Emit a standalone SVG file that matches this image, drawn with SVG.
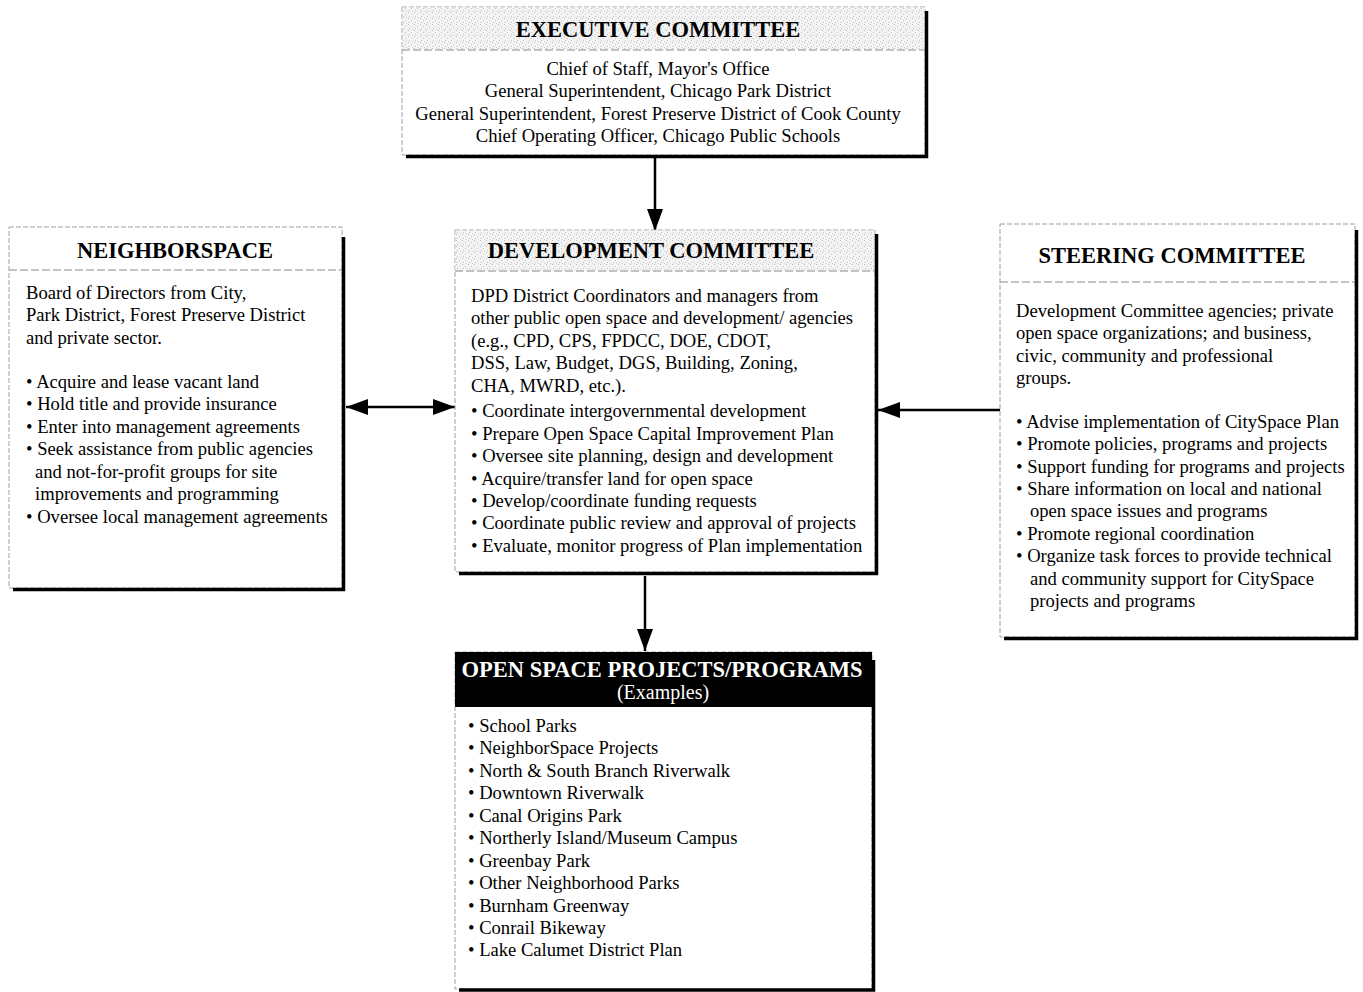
<svg xmlns="http://www.w3.org/2000/svg" width="1363" height="992" viewBox="0 0 1363 992">
<style>
.frame{fill:#fff;stroke:#a0a0a0;stroke-width:1;stroke-dasharray:5 2}
.shadow{fill:none;stroke:#000;stroke-width:3.5}
.sep{stroke:#8a8a8a;stroke-width:1;stroke-dasharray:8 3}
.title{font-family:"Liberation Serif","Times New Roman",serif;font-weight:bold;font-size:22.5px;fill:#000;text-anchor:middle}
.body{font-family:"Liberation Serif","Times New Roman",serif;font-size:18.6px;fill:#000}
.c{text-anchor:middle}
.conn{stroke:#000;stroke-width:2.5;fill:none}
</style>
<defs>
<pattern id="stipple" width="6" height="6" patternUnits="userSpaceOnUse">
<rect width="6" height="6" fill="#f3f3f3"/>
<rect x="0" y="0" width="1" height="1" fill="#bbbbbb"/>
<rect x="3" y="2" width="1" height="1" fill="#c8c8c8"/>
<rect x="1" y="4" width="1" height="1" fill="#c0c0c0"/>
<rect x="4" y="5" width="1" height="1" fill="#d2d2d2"/>
</pattern>
<marker id="ahb" viewBox="0 0 22 16" refX="22" refY="8" markerWidth="22" markerHeight="16" markerUnits="userSpaceOnUse" orient="auto-start-reverse">
<path d="M0,0 L22,8 L0,16 z" fill="#000"/>
</marker>
</defs>

<g id="connectors">
<line class="conn" x1="655" y1="158" x2="655" y2="231" marker-end="url(#ahb)"/>
<line class="conn" x1="346" y1="407" x2="455" y2="407" marker-start="url(#ahb)" marker-end="url(#ahb)"/>
<line class="conn" x1="1000" y1="410" x2="878" y2="410" marker-end="url(#ahb)"/>
<line class="conn" x1="645" y1="576" x2="645" y2="651" marker-end="url(#ahb)"/>
</g>

<g id="executive-committee">
<rect class="frame" x="402" y="7" width="523" height="148"/>
<rect x="402.5" y="7.5" width="522" height="42" fill="url(#stipple)"/>
<line class="sep" x1="402" y1="50" x2="925" y2="50"/>
<path class="shadow" d="M406,156.5 H926.5 V11"/>
<text class="title" x="658" y="37">EXECUTIVE COMMITTEE</text>
<text class="body c" x="658" y="75">Chief of Staff, Mayor's Office</text>
<text class="body c" x="658" y="97">General Superintendent, Chicago Park District</text>
<text class="body c" x="658" y="120">General Superintendent, Forest Preserve District of Cook County</text>
<text class="body c" x="658" y="142">Chief Operating Officer, Chicago Public Schools</text>
</g>

<g id="development-committee">
<rect class="frame" x="455" y="230" width="420" height="342"/>
<rect x="455.5" y="230.5" width="419" height="40" fill="url(#stipple)"/>
<line class="sep" x1="455" y1="271" x2="875" y2="271"/>
<path class="shadow" d="M459,573.5 H876.5 V234"/>
<text class="title" x="651" y="258">DEVELOPMENT COMMITTEE</text>
<text class="body" x="471" y="302">DPD District Coordinators and managers from</text>
<text class="body" x="471" y="324">other public open space and development/ agencies</text>
<text class="body" x="471" y="347">(e.g., CPD,  CPS, FPDCC, DOE, CDOT,</text>
<text class="body" x="471" y="369">DSS, Law, Budget, DGS, Building, Zoning,</text>
<text class="body" x="471" y="392">CHA, MWRD, etc.).</text>
<text class="body" x="471" y="417">• Coordinate intergovernmental development</text>
<text class="body" x="471" y="440">• Prepare Open Space Capital Improvement Plan</text>
<text class="body" x="471" y="462">• Oversee site planning, design and development</text>
<text class="body" x="471" y="485">• Acquire/transfer land for open space</text>
<text class="body" x="471" y="507">• Develop/coordinate funding requests</text>
<text class="body" x="471" y="529">• Coordinate public review and approval of projects</text>
<text class="body" x="471" y="552">• Evaluate, monitor progress of Plan implementation</text>
</g>

<g id="neighborspace">
<rect class="frame" x="9" y="227" width="333" height="361"/>
<line class="sep" x1="9" y1="270" x2="342" y2="270"/>
<path class="shadow" d="M13,589.5 H343.5 V237"/>
<text class="title" x="175" y="258">NEIGHBORSPACE</text>
<text class="body" x="26" y="299">Board of Directors from City,</text>
<text class="body" x="26" y="321">Park District, Forest Preserve District</text>
<text class="body" x="26" y="344">and private sector.</text>
<text class="body" x="26" y="388">• Acquire and lease vacant land</text>
<text class="body" x="26" y="410">• Hold title and provide insurance</text>
<text class="body" x="26" y="433">• Enter into management agreements</text>
<text class="body" x="26" y="455">• Seek assistance from public agencies</text>
<text class="body" x="35" y="478">and not-for-profit groups for site</text>
<text class="body" x="35" y="500">improvements and programming</text>
<text class="body" x="26" y="523">• Oversee local management agreements</text>
</g>

<g id="steering-committee">
<rect class="frame" x="1000" y="224" width="355" height="413"/>
<line class="sep" x1="1000" y1="282" x2="1355" y2="282"/>
<path class="shadow" d="M1004,638.5 H1356.5 V230"/>
<text class="title" x="1172" y="263">STEERING COMMITTEE</text>
<text class="body" x="1016" y="317">Development Committee agencies; private</text>
<text class="body" x="1016" y="339">open space organizations; and business,</text>
<text class="body" x="1016" y="362">civic, community and professional</text>
<text class="body" x="1016" y="384">groups.</text>
<text class="body" x="1016" y="428">• Advise implementation of CitySpace Plan</text>
<text class="body" x="1016" y="450">• Promote policies, programs and projects</text>
<text class="body" x="1016" y="473">• Support funding for programs and projects</text>
<text class="body" x="1016" y="495">• Share information on local and national</text>
<text class="body" x="1030" y="517">open space issues and programs</text>
<text class="body" x="1016" y="540">•  Promote regional coordination</text>
<text class="body" x="1016" y="562">• Organize task forces to provide technical</text>
<text class="body" x="1030" y="585">and community support for CitySpace</text>
<text class="body" x="1030" y="607">projects and programs</text>
</g>

<g id="open-space-projects">
<rect class="frame" x="455" y="652" width="417" height="337"/>
<rect x="455" y="652" width="417" height="55" fill="#000"/>
<path class="shadow" d="M459,990 H873.5 V660"/>
<text class="title" x="662" y="677" style="fill:#fff">OPEN SPACE PROJECTS/PROGRAMS</text>
<text class="body c" x="663" y="699" style="fill:#fff;font-size:20px">(Examples)</text>
<text class="body" x="468" y="732">• School Parks</text>
<text class="body" x="468" y="754">• NeighborSpace Projects</text>
<text class="body" x="468" y="777">• North &amp; South Branch Riverwalk</text>
<text class="body" x="468" y="799">• Downtown Riverwalk</text>
<text class="body" x="468" y="822">• Canal Origins Park</text>
<text class="body" x="468" y="844">• Northerly Island/Museum Campus</text>
<text class="body" x="468" y="867">• Greenbay Park</text>
<text class="body" x="468" y="889">• Other Neighborhood Parks</text>
<text class="body" x="468" y="912">• Burnham Greenway</text>
<text class="body" x="468" y="934">• Conrail Bikeway</text>
<text class="body" x="468" y="956">• Lake Calumet District Plan</text>
</g>
</svg>
